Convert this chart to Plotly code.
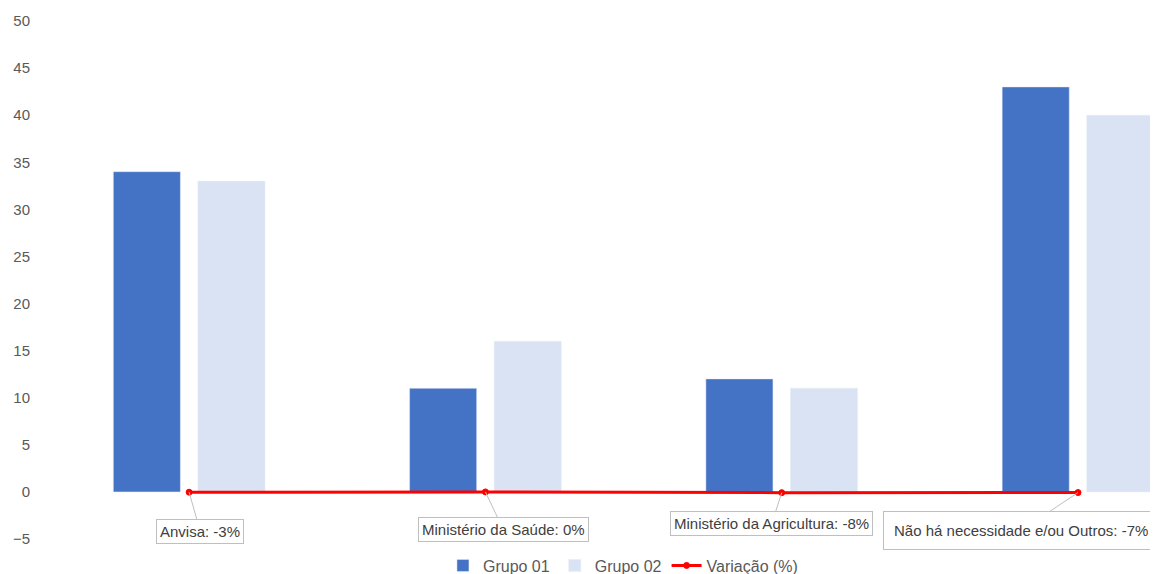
import plotly.graph_objects as go

categorias = ["Anvisa", "Ministério da Saúde", "Ministério da Agricultura", "Não há necessidade e/ou Outros"]
grupo01 = [34, 11, 12, 43]
grupo02 = [33, 16, 11, 40]
variacao = [-3, 0, -8, -7]
y_ticks = [-5, 0, 5, 10, 15, 20, 25, 30, 35, 40, 45, 50]

x = list(range(len(categorias)))
font = "Liberation Sans, Arial, sans-serif"

fig = go.Figure()
fig.add_trace(go.Bar(x=x, y=grupo01, name="Grupo 01", marker_color="#4472C4"))
fig.add_trace(go.Bar(x=x, y=grupo02, name="Grupo 02", marker_color="#DAE3F3"))
fig.add_trace(go.Scatter(
    x=x, y=[v / 100 for v in variacao], name="Variação (%)", mode="lines+markers",
    line=dict(color="#FF0000", width=3),
    marker=dict(size=6, color="#FF0000", line=dict(color="#FF0000", width=1)),
))

offsets = [(11, 39), (18, 38), (-10, 31), (-57, 38)]
pads = [3, 3, 3, 10]
for i, (cat, v) in enumerate(zip(categorias, variacao)):
    fig.add_annotation(
        x=x[i], y=v / 100, text=f"{cat}: {v}%", showarrow=True, arrowhead=0,
        arrowcolor="#BFBFBF", arrowwidth=1, ax=offsets[i][0], ay=offsets[i][1],
        bgcolor="white", bordercolor="#BFBFBF", borderwidth=1, borderpad=pads[i],
        font=dict(size=15, color="#404040", family=font),
    )

fig.update_layout(
    width=1150, height=566,
    margin=dict(l=33, r=0, t=13, b=35),
    plot_bgcolor="white", paper_bgcolor="white",
    barmode="group", bargap=0.429, bargroupgap=0.207,
    font=dict(family=font, size=15, color="#595959"),
    xaxis=dict(range=[-0.5, 3.27], showticklabels=False, showgrid=False, zeroline=False,
               showline=False, automargin=False),
    yaxis=dict(range=[-5, 50], tickvals=y_ticks, showgrid=False, zeroline=False, showline=False,
               automargin=False, ticklabelstandoff=10, tickfont=dict(size=15, color="#595959")),
    legend=dict(orientation="h", x=0.521, xanchor="center", yref="container", y=0.045, yanchor="top",
                font=dict(size=16, color="#595959"), traceorder="normal"),
)

fig.write_html("out.html")
